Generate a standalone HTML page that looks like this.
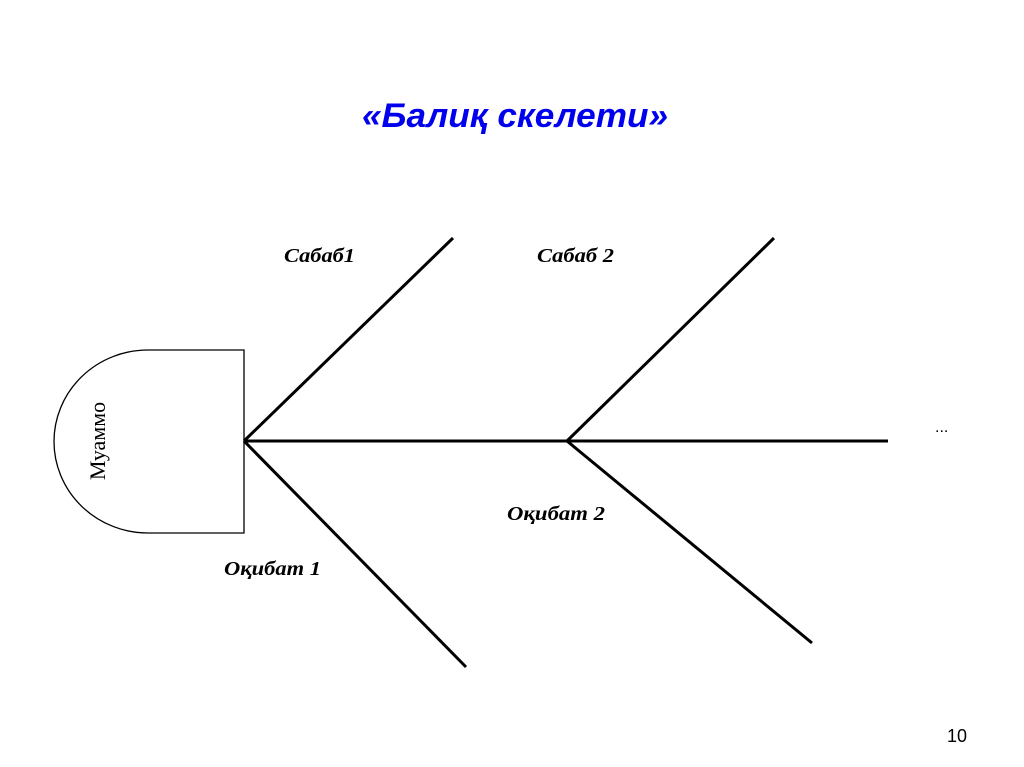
<!DOCTYPE html>
<html><head><meta charset="utf-8"><style>
html,body{margin:0;padding:0;background:#fff;width:1024px;height:767px;overflow:hidden}
</style></head><body>
<svg width="1024" height="767" xmlns="http://www.w3.org/2000/svg">
<text x="362" y="127" textLength="306" lengthAdjust="spacingAndGlyphs" font-family="Liberation Sans, sans-serif" font-weight="bold" font-style="italic" font-size="34" fill="#0000ee">«Балиқ скелети»</text>
<path d="M244,350 L148,350 A94,91.5 0 0 0 148,533 L244,533 Z" fill="none" stroke="#000" stroke-width="1.3"/>
<text transform="translate(105,441) rotate(-90)" text-anchor="middle" font-family="Liberation Serif, serif" font-size="22" fill="#000">Муаммо</text>
<g stroke="#000" stroke-width="3" fill="none">
<line x1="244" y1="441" x2="888" y2="441"/>
<line x1="244" y1="441" x2="453" y2="238"/>
<line x1="244" y1="441" x2="466" y2="667"/>
<line x1="567" y1="441" x2="774" y2="238"/>
<line x1="567" y1="441" x2="812" y2="643"/>
</g>
<g font-family="Liberation Serif, serif" font-weight="bold" font-style="italic" font-size="20" fill="#000" lengthAdjust="spacingAndGlyphs">
<text x="284" y="262" textLength="71" lengthAdjust="spacingAndGlyphs">Сабаб1</text>
<text x="537" y="262" textLength="77" lengthAdjust="spacingAndGlyphs">Сабаб 2</text>
<text x="507" y="520" textLength="98" lengthAdjust="spacingAndGlyphs">Оқибат 2</text>
<text x="224" y="575" textLength="97" lengthAdjust="spacingAndGlyphs">Оқибат 1</text>
</g>
<text x="935" y="432" font-family="Liberation Sans, sans-serif" font-size="16" fill="#000">...</text>
<text x="947" y="742" font-family="Liberation Sans, sans-serif" font-size="18" fill="#000">10</text>
</svg>
</body></html>
